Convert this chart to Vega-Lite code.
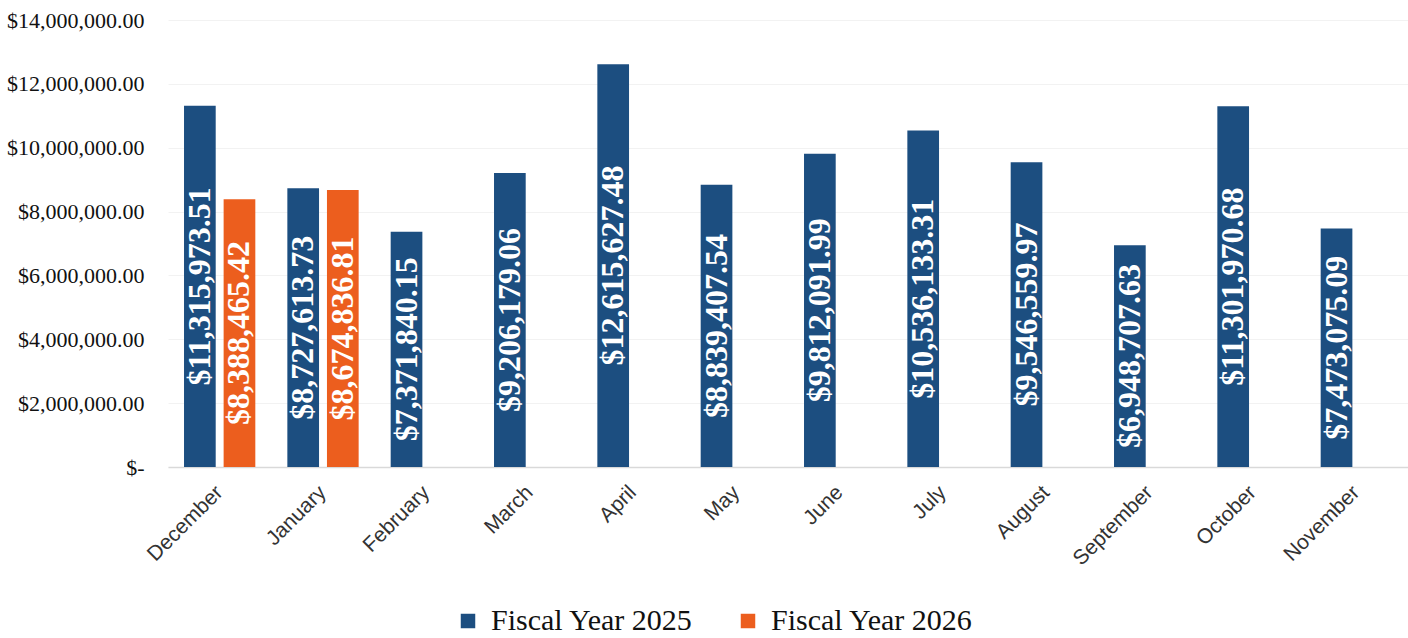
{
  "$schema": "https://vega.github.io/schema/vega-lite/v6.json",
  "autosize": {"type": "none"},
  "padding": {"left": 168, "top": 20, "right": 0, "bottom": 171},
  "width": 1240,
  "height": 447,
  "background": "white",
  "config": {"view": {"stroke": null}},
  "data": {
    "values": [
      {"month": "December", "series": "Fiscal Year 2025", "value": 11315973.51, "label": "$11,315,973.51"},
      {"month": "December", "series": "Fiscal Year 2026", "value": 8388465.42, "label": "$8,388,465.42"},
      {"month": "January", "series": "Fiscal Year 2025", "value": 8727613.73, "label": "$8,727,613.73"},
      {"month": "January", "series": "Fiscal Year 2026", "value": 8674836.81, "label": "$8,674,836.81"},
      {"month": "February", "series": "Fiscal Year 2025", "value": 7371840.15, "label": "$7,371,840.15"},
      {"month": "March", "series": "Fiscal Year 2025", "value": 9206179.06, "label": "$9,206,179.06"},
      {"month": "April", "series": "Fiscal Year 2025", "value": 12615627.48, "label": "$12,615,627.48"},
      {"month": "May", "series": "Fiscal Year 2025", "value": 8839407.54, "label": "$8,839,407.54"},
      {"month": "June", "series": "Fiscal Year 2025", "value": 9812091.99, "label": "$9,812,091.99"},
      {"month": "July", "series": "Fiscal Year 2025", "value": 10536133.31, "label": "$10,536,133.31"},
      {"month": "August", "series": "Fiscal Year 2025", "value": 9546559.97, "label": "$9,546,559.97"},
      {"month": "September", "series": "Fiscal Year 2025", "value": 6948707.63, "label": "$6,948,707.63"},
      {"month": "October", "series": "Fiscal Year 2025", "value": 11301970.68, "label": "$11,301,970.68"},
      {"month": "November", "series": "Fiscal Year 2025", "value": 7473075.09, "label": "$7,473,075.09"}
    ]
  },
  "encoding": {
    "x": {
      "field": "month",
      "type": "nominal",
      "sort": null,
      "scale": {"paddingInner": 0.31, "paddingOuter": 0.155},
      "axis": {
        "title": null,
        "labelAngle": -45,
        "labelAlign": "right",
        "labelBaseline": "middle",
        "labelFont": "Liberation Sans",
        "labelFontSize": 21,
        "labelColor": "#333333",
        "labelPadding": 22,
        "ticks": false,
        "domainColor": "#d9d9d9",
        "domainWidth": 1.5,
        "grid": false
      }
    },
    "xOffset": {
      "field": "series",
      "type": "nominal",
      "scale": {"domain": ["Fiscal Year 2025", "Fiscal Year 2026"], "paddingInner": 0.2, "paddingOuter": 0}
    }
  },
  "layer": [
    {
      "mark": {"type": "bar"},
      "encoding": {
        "y": {
          "field": "value",
          "type": "quantitative",
          "scale": {"domain": [0, 14000000]},
          "axis": {
            "title": null,
            "values": [0, 2000000, 4000000, 6000000, 8000000, 10000000, 12000000, 14000000],
            "labelExpr": "datum.value == 0 ? '$-' : '$' + format(datum.value, ',.2f')",
            "labelFont": "Liberation Serif",
            "labelFontSize": 22,
            "labelColor": "#111111",
            "labelPadding": 24,
            "labelLimit": 300,
            "ticks": false,
            "domain": false,
            "grid": true,
            "gridColor": "#f2f2f2",
            "gridWidth": 1
          }
        },
        "color": {
          "field": "series",
          "type": "nominal",
          "scale": {"domain": ["Fiscal Year 2025", "Fiscal Year 2026"], "range": ["#1C4E80", "#EC5E1E"]},
          "legend": {
            "title": null,
            "orient": "none",
            "legendX": 285,
            "legendY": 586,
            "direction": "horizontal",
            "symbolType": "square",
            "symbolSize": 210,
            "symbolStrokeWidth": 0,
            "labelFont": "Liberation Serif",
            "labelFontSize": 30,
            "labelColor": "#111111",
            "labelOffset": 8,
            "labelLimit": 400,
            "columnPadding": 40
          }
        }
      }
    },
    {
      "mark": {
        "type": "text",
        "angle": 270,
        "align": "center",
        "baseline": "middle",
        "font": "Liberation Serif",
        "fontWeight": "bold",
        "fontSize": 32,
        "color": "white"
      },
      "encoding": {
        "y": {
          "field": "value",
          "type": "quantitative",
          "scale": {"domain": [0, 28000000]},
          "axis": null
        },
        "text": {"field": "label"}
      }
    }
  ],
  "resolve": {"scale": {"y": "independent"}}
}
